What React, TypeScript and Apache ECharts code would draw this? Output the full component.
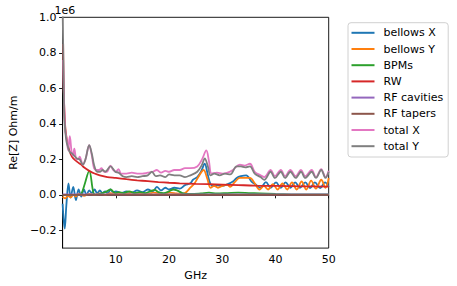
import React, { useEffect, useRef } from "react";
import * as echarts from "echarts";

// values in units of 1e6 Ohm/m, frequencies in GHz
const bellowsXFreq = [0, 0.2, 0.4, 0.7, 1.1, 1.5, 2.0, 2.5, 3.0, 3.5, 4.0, 4.5, 5.0, 5.5, 6.0, 6.5, 7.0, 7.5, 8.0, 8.5, 9.0, 9.5, 10, 11, 12, 13, 14, 15, 16, 17, 17.7, 18.5, 19.3, 20, 21, 22, 23, 24, 24.5, 25.3, 26, 26.7, 27.3, 27.8, 28.5, 29, 30, 31, 32, 32.7, 33.5, 34.5, 35.5, 36.2, 37.2, 38.2, 39.1, 40.1, 41, 41.9, 42.8, 43.7, 44.6, 45.6, 46.5, 47.4, 48.4, 49.3, 50];
const bellowsXValues = [-0.05, -0.14, -0.19, -0.06, 0.065, -0.015, 0.045, -0.03, 0.03, -0.01, 0.03, 0.0, 0.025, 0.01, 0.03, 0.008, 0.025, 0.01, 0.02, 0.008, 0.03, 0.015, 0.02, 0.01, 0.02, 0.012, 0.025, 0.015, 0.03, 0.02, 0.045, 0.025, 0.04, 0.03, 0.04, 0.035, 0.055, 0.065, 0.085, 0.1, 0.13, 0.175, 0.11, 0.06, 0.05, 0.055, 0.05, 0.06, 0.075, 0.095, 0.105, 0.11, 0.075, 0.06, 0.04, 0.072, 0.04, 0.07, 0.04, 0.07, 0.04, 0.07, 0.04, 0.07, 0.038, 0.07, 0.038, 0.07, 0.045];

const bellowsYFreq = [0, 0.5, 1, 1.5, 2, 2.5, 3, 4, 5, 6, 7, 8, 9, 10, 11, 12, 13, 14, 15, 16, 17, 18, 19, 20, 21, 22, 23, 24, 24.8, 25.5, 26.5, 27.2, 27.8, 28.5, 29.2, 30, 30.9, 31.5, 32.3, 33.3, 34.2, 35.2, 36.1, 37.0, 37.8, 38.6, 39.5, 40.4, 41.3, 42.2, 43.1, 44, 44.9, 45.8, 46.7, 47.6, 48.6, 49.4, 50];
const bellowsYValues = [-0.01, -0.02, -0.005, -0.015, 0, -0.01, 0.005, -0.005, 0.005, 0.0, 0.008, 0.0, 0.01, 0.005, 0.01, 0.005, 0.012, 0.005, 0.01, 0.005, 0.012, 0.01, 0.005, 0.012, 0.01, 0.005, 0.01, 0.04, 0.065, 0.1, 0.14, 0.09, 0.04, 0.05, 0.04, 0.05, 0.057, 0.045, 0.07, 0.095, 0.095, 0.095, 0.065, 0.03, 0.05, 0.03, 0.06, 0.03, 0.065, 0.03, 0.07, 0.03, 0.075, 0.03, 0.08, 0.035, 0.085, 0.04, 0.095];

const bpmsFreq = [0, 3, 3.5, 4.1, 5.0, 5.8, 6.3, 7, 8, 9, 9.9, 10.5, 11.5, 12.5, 13.5, 14.5, 15.5, 16.5, 17.3, 18, 19, 20, 20.8, 21.5, 22.5, 24, 26, 27.5, 29, 31, 33, 35, 37, 40, 43, 46, 50];
const bpmsValues = [0, 0, 0.005, 0.055, 0.135, 0.01, 0, 0.005, 0.015, 0.03, 0.01, 0.015, 0.01, 0.02, 0.01, 0.015, 0.01, 0.02, 0.028, 0.015, 0.01, 0.02, 0.03, 0.025, 0.01, 0.005, 0.008, 0.012, 0.008, 0.01, 0.012, 0.01, 0.008, 0.005, 0.003, 0.002, 0.002];

const rwFreq = [0.1, 0.2, 0.4, 0.6, 1.0, 1.5, 2, 3, 3.5, 4, 5, 6, 7, 8.4, 10, 12, 14, 16, 18, 20, 22, 25, 30, 33, 36, 40, 45, 50];
const rwValues = [0.85, 0.6, 0.43, 0.35, 0.28, 0.23, 0.205, 0.18, 0.17, 0.155, 0.135, 0.12, 0.11, 0.1, 0.095, 0.088, 0.082, 0.077, 0.072, 0.068, 0.065, 0.062, 0.058, 0.055, 0.052, 0.05, 0.048, 0.046];

const rfCavitiesFreq = [0, 10, 20, 30, 40, 50];
const rfCavitiesValues = [0.002, 0.002, 0.002, 0.002, 0.002, 0.002];

const rfTapersFreq = [0, 10, 20, 30, 40, 50];
const rfTapersValues = [0.0, 0.0, 0.0, 0.0, 0.0, 0.0];

const totalXFreq = [0.1, 0.3, 0.5, 0.73, 1.04, 1.35, 1.7, 1.95, 2.2, 2.6, 2.9, 3.2, 3.8, 4.3, 5.0, 5.5, 5.9, 6.4, 6.8, 7.3, 7.8, 8.3, 9.0, 9.5, 10, 10.5, 11, 12, 13, 14, 15, 16, 17, 17.7, 18.5, 19.3, 20, 21, 22, 23, 24, 25.3, 26.2, 27, 27.5, 28, 29, 30, 31, 32, 33.3, 34.2, 35.2, 36.1, 37.2, 37.9, 39.1, 39.9, 41, 41.8, 42.8, 43.8, 44.8, 45.6, 46.8, 47.6, 48.6, 49.4, 50];
const totalXValues = [0.76, 0.5, 0.36, 0.32, 0.25, 0.33, 0.24, 0.22, 0.26, 0.2, 0.2, 0.215, 0.17, 0.2, 0.28, 0.22, 0.15, 0.14, 0.14, 0.15, 0.13, 0.13, 0.165, 0.14, 0.13, 0.145, 0.12, 0.12, 0.125, 0.12, 0.12, 0.125, 0.13, 0.14, 0.125, 0.135, 0.13, 0.14, 0.14, 0.15, 0.15, 0.16, 0.2, 0.25, 0.19, 0.12, 0.125, 0.12, 0.125, 0.14, 0.17, 0.165, 0.175, 0.13, 0.11, 0.1, 0.14, 0.105, 0.14, 0.105, 0.14, 0.105, 0.14, 0.105, 0.14, 0.1, 0.145, 0.1, 0.135];

const totalYFreq = [0, 0.15, 0.3, 0.5, 0.73, 1.0, 1.35, 1.7, 2.2, 2.7, 3.2, 3.8, 4.3, 5.0, 5.5, 5.9, 6.5, 7.0, 7.5, 8.0, 9.0, 9.9, 10.5, 11.3, 12, 13, 14, 15, 16, 16.8, 17.5, 18.3, 19.3, 20, 21, 22, 23, 24, 25.3, 26.2, 26.7, 27.3, 27.8, 28.5, 29.5, 30.5, 31.5, 32.7, 33.5, 34.3, 35.2, 36.1, 37.2, 37.9, 39.1, 39.9, 41, 41.8, 42.8, 43.8, 44.8, 45.6, 46.8, 47.6, 48.6, 49.4, 50];
const totalYValues = [1.05, 0.75, 0.45, 0.36, 0.3, 0.27, 0.24, 0.235, 0.22, 0.205, 0.2, 0.17, 0.2, 0.28, 0.23, 0.17, 0.13, 0.13, 0.14, 0.13, 0.16, 0.13, 0.125, 0.105, 0.1, 0.105, 0.1, 0.105, 0.11, 0.13, 0.105, 0.11, 0.1, 0.115, 0.11, 0.11, 0.1, 0.11, 0.13, 0.17, 0.205, 0.16, 0.11, 0.12, 0.11, 0.12, 0.115, 0.16, 0.16, 0.155, 0.16, 0.12, 0.1, 0.085, 0.13, 0.095, 0.13, 0.095, 0.13, 0.095, 0.13, 0.095, 0.13, 0.095, 0.14, 0.095, 0.13];

const seriesNames = ["bellows X", "bellows Y", "BPMs", "RW", "RF cavities", "RF tapers", "total X", "total Y"];
const seriesColors = ["#1f77b4", "#ff7f0e", "#2ca02c", "#d62728", "#9467bd", "#8c564b", "#e377c2", "#7f7f7f"];

const xTickValues = [10, 20, 30, 40, 50];
const yTickValues = [-0.2, 0.0, 0.2, 0.4, 0.6, 0.8, 1.0];

const FONT = "DejaVu Sans";

function zip(f: number[], v: number[]) {
  return f.map((x, i) => [x, v[i]]);
}

export default function App() {
  const ref = useRef<HTMLDivElement>(null);
  useEffect(() => {
    if (!ref.current) return;
    const chart = echarts.init(ref.current, undefined, { renderer: "svg" });
    const allData = [
      zip(bellowsXFreq, bellowsXValues),
      zip(bellowsYFreq, bellowsYValues),
      zip(bpmsFreq, bpmsValues),
      zip(rwFreq, rwValues),
      zip(rfCavitiesFreq, rfCavitiesValues),
      zip(rfTapersFreq, rfTapersValues),
      zip(totalXFreq, totalXValues),
      zip(totalYFreq, totalYValues),
    ];
    const fmtY = (v: number) => {
      const r = Math.round(v * 10) / 10;
      if (Math.abs(r) < 1e-9) return "0.0";
      return r < 0 ? "\u2212" + Math.abs(r).toFixed(1) : r.toFixed(1);
    };
    chart.setOption({
      animation: false,
      backgroundColor: "#ffffff",
      grid: {
        left: 54.3,
        top: 17.3,
        width: 274.4,
        height: 233.4,
        show: true,
        borderColor: "#000",
        borderWidth: 0.9,
        backgroundColor: "transparent",
      },
      xAxis: {
        type: "value",
        min: 0,
        max: 50,
        name: "GHz",
        nameLocation: "middle",
        nameGap: 19,
        nameTextStyle: { color: "#000", fontSize: 11, fontFamily: FONT },
        axisLine: { show: true, lineStyle: { color: "#000", width: 0.9 } },
        axisTick: { show: true, length: 3.5, lineStyle: { color: "#000", width: 0.9 }, customValues: xTickValues },
        axisLabel: { color: "#000", fontSize: 11, fontFamily: FONT, margin: 6, customValues: xTickValues },
        splitLine: { show: false },
      },
      yAxis: {
        type: "value",
        min: -0.3,
        max: 1.0,
        name: "Re[Z] Ohm/m",
        nameLocation: "middle",
        nameGap: 36,
        nameTextStyle: { color: "#000", fontSize: 11, fontFamily: FONT },
        axisLine: { show: true, lineStyle: { color: "#000", width: 0.9 } },
        axisTick: { show: true, length: 3.5, lineStyle: { color: "#000", width: 0.9 }, customValues: yTickValues },
        axisLabel: { color: "#000", fontSize: 11, fontFamily: FONT, margin: 6, customValues: yTickValues, formatter: fmtY },
        splitLine: { show: false },
      },
      legend: {
        orient: "vertical",
        left: 348,
        top: 22.7,
        padding: [3.6, 5, 4.3, 3.5],
        itemWidth: 23,
        itemHeight: 2,
        itemGap: 3.2,
        icon: "rect",
        backgroundColor: "#fff",
        borderColor: "#d0d0d0",
        borderWidth: 1,
        borderRadius: 3,
        textStyle: { color: "#000", fontSize: 11, fontFamily: FONT, lineHeight: 13, padding: [0, 0, 0, 4] },
        data: seriesNames,
      },
      graphic: [
        {
          type: "text",
          left: 54.5,
          top: 4.5,
          style: { text: "1e6", fill: "#000", font: `11px '${FONT}'` },
        },
      ],
      series: seriesNames.map((name, i) => ({
        name,
        type: "line",
        data: allData[i],
        showSymbol: false,
        symbol: "none",
        smooth: 0.35,
        clip: true,
        color: seriesColors[i],
        lineStyle: { color: seriesColors[i], width: 1.8 },
        z: 2 + i,
      })),
    });
    return () => chart.dispose();
  }, []);
  return <div ref={ref} style={{ position: "fixed", left: 0, top: 0, width: 457, height: 286 }} />;
}
